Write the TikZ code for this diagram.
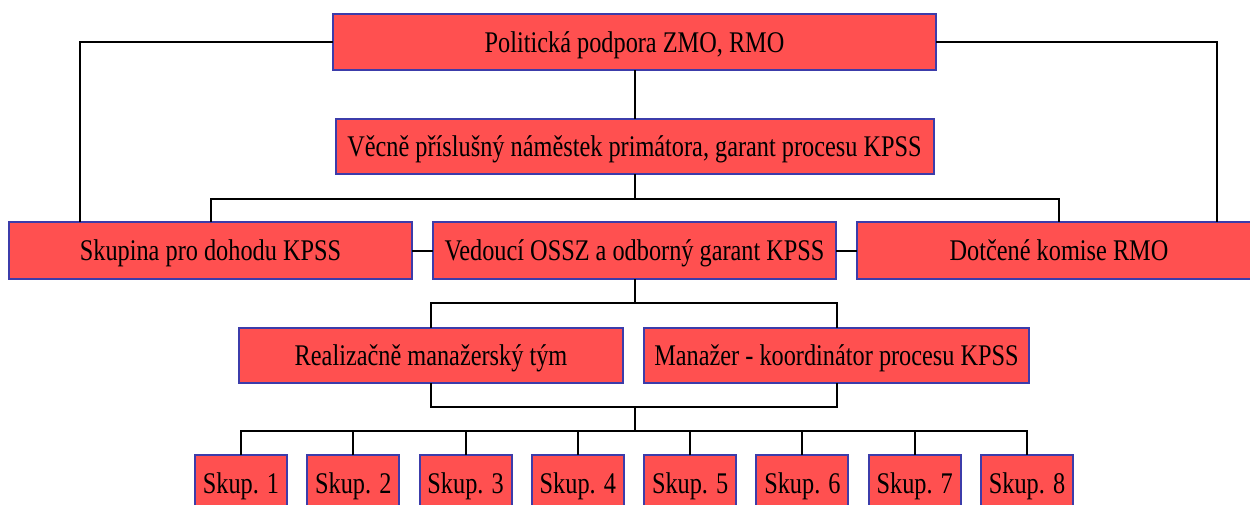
\documentclass[tikz,border=0pt]{standalone}
\usepackage{fontspec}
\setmainfont{Liberation Serif}[FakeStretch=0.81]
\usetikzlibrary{calc}
\definecolor{boxred}{RGB}{255,80,80}
\definecolor{boxblue}{RGB}{60,60,170}
\tikzset{
  orgbox/.style={draw=boxblue, line width=2pt, fill=boxred, inner sep=0pt, outer sep=0pt,
    font=\fontsize{30}{32}\selectfont, text height=20pt, text depth=0pt, align=center},
  conn/.style={draw=black, line width=2pt}
}
\begin{document}
\begin{tikzpicture}[x=1pt,y=-1pt]
\useasboundingbox (0,0) rectangle (1250,504);
\clip (0,0) rectangle (1250,504);
\fill[white] (0,0) rectangle (1250,504);
% boxes
\node[orgbox, minimum width=603pt, minimum height=56pt] (pol) at (634.5,42) {Politická podpora ZMO, RMO};
\node[orgbox, minimum width=598pt, minimum height=55pt] (vec) at (634.5,146.5) {Věcně příslušný náměstek primátora, garant procesu KPSS};
\node[orgbox, minimum width=403pt, minimum height=57pt] (sku) at (210.5,250.5) {Skupina pro dohodu KPSS};
\node[orgbox, minimum width=403pt, minimum height=57pt] (ved) at (634.5,250.5) {Vedoucí OSSZ a odborný garant KPSS};
\node[orgbox, minimum width=404pt, minimum height=57pt] (dot) at (1059,250.5) {Dotčené komise RMO};
\node[orgbox, minimum width=384pt, minimum height=55pt] (rea) at (431,355.5) {Realizačně manažerský tým};
\node[orgbox, minimum width=385pt, minimum height=55pt] (man) at (836.5,355.5) {Manažer - koordinátor procesu KPSS};
\foreach \i in {1,...,8} {
  \node[orgbox, minimum width=92pt, minimum height=56pt] (s\i) at ({241+112.29*(\i-1)},483) {Skup. \i};
}
% connectors
\coordinate (lc) at (80,42);
\coordinate (rc) at (1217,42);
\coordinate (h1) at (634.5,199);
\coordinate (h2) at (634.5,303);
\coordinate (h3) at (634.5,407);
\coordinate (h4) at (634.5,431);
\draw[conn] (pol.west) -- (lc) -- (lc |- sku.north);
\draw[conn] (pol.east) -- (rc) -- (rc |- dot.north);
\draw[conn] (pol.south) -- (vec.north);
\draw[conn] (vec.south) -- (h1);
\draw[conn] (sku.north) |- (h1) -| (dot.north);
\draw[conn] (sku.east) -- (ved.west);
\draw[conn] (ved.east) -- (dot.west);
\draw[conn] (ved.south) -- (h2);
\draw[conn] (rea.north) |- (h2) -| (man.north);
\draw[conn] (rea.south) |- (h3) -| (man.south);
\draw[conn] (h3) -- (h4);
\draw[conn] (s1.north) |- (h4) -| (s8.north);
\foreach \i in {2,...,7} {
  \draw[conn] (s\i.north) -- (s\i.north |- h4);
}
\end{tikzpicture}
\end{document}
